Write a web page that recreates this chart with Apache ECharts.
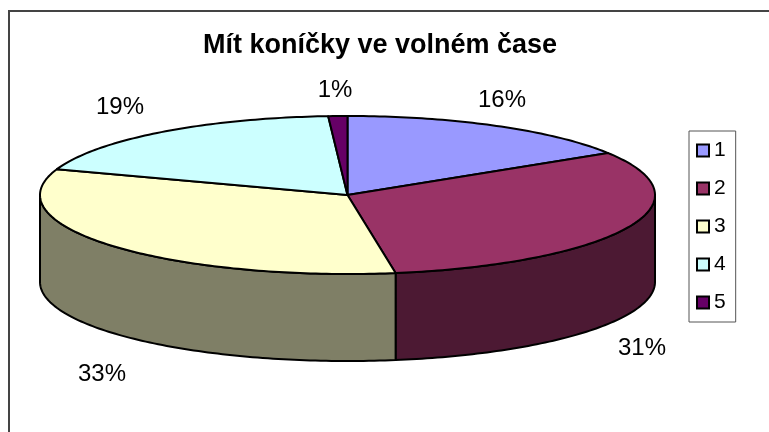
<!DOCTYPE html>
<html><head><meta charset="utf-8">
<style>html,body{margin:0;padding:0;background:#fff}#c{width:769px;height:432px}</style>
<script src="https://cdn.jsdelivr.net/npm/echarts@6/dist/echarts.min.js"></script>
</head><body><div id="c"></div>
<script>
const categories = ['1','2','3','4','5'];
const values = [16.1, 31.4, 32.8, 18.7, 1.0];
const topColors = ['#9999FF','#993366','#FFFFCC','#CCFFFF','#660066'];
const wallColors = ['#4C4C7F','#4C1933','#7F7F66','#667F7F','#330033'];
const labelTexts = ['16%','31%','33%','19%','1%'];
const labelAnchors = [[502,100],[642,348],[102,374],[120,107],[335,90]];

const C = {x:347.5, y:195, rx:307.5, ry:79, depth:87};
const total = values.reduce((a,b)=>a+b,0);
const starts = values.map((_,i)=>values.slice(0,i).reduce((a,b)=>a+b,0)/total*360);
function pt(deg, dy){const r=deg*Math.PI/180;return [C.x+C.rx*Math.sin(r), C.y-C.ry*Math.cos(r)+(dy||0)];}
function arc(a,b,dy){const n=Math.max(2,Math.ceil((b-a)));const o=[];for(let k=0;k<=n;k++)o.push(pt(a+(b-a)*k/n,dy));return o;}
const stroke={stroke:'#000',lineWidth:2,lineJoin:'round'};

function render(i){return function(params,api){
  const v=api.value(0);
  const a=starts[i], b=a+v/total*360;
  const kids=[];
  const wa=Math.max(a,90), wb=Math.min(b,270);
  if(wb>wa){
    const up=arc(wa,wb,0), dn=arc(wa,wb,C.depth).reverse();
    kids.push({type:'polygon',shape:{points:up.concat(dn)},style:Object.assign({fill:wallColors[i]},stroke)});
  }
  const pts=[[C.x,C.y]].concat(arc(a,b,0));
  kids.push({type:'polygon',shape:{points:pts},style:Object.assign({fill:topColors[i]},stroke)});
  kids.push({type:'text',z2:10,style:{text:labelTexts[i],x:labelAnchors[i][0],y:labelAnchors[i][1],align:'center',verticalAlign:'middle',fill:'#000',font:'24px "Liberation Sans"'}});
  return {type:'group',children:kids};
};}

const option={
  animation:false,
  backgroundColor:'#fff',
  title:{text:'Mít koníčky ve volném čase',left:375,top:27,textAlign:'center',
    textStyle:{fontFamily:'Liberation Sans',fontWeight:'bold',fontSize:27,color:'#000'}},
  legend:{orient:'vertical',left:689,top:131,padding:[9,10,9,7],itemWidth:12,itemHeight:12,itemGap:17,
    borderColor:'#555',borderWidth:1,icon:'rect',
    data:categories,selectedMode:false,
    itemStyle:{borderColor:'#000',borderWidth:2},
    textStyle:{fontFamily:'Liberation Sans',fontSize:21,color:'#000',lineHeight:20,padding:[0,0,0,0]}},
  graphic:[{type:'rect',silent:true,z:-1,shape:{x:9,y:11,width:800,height:500},style:{fill:'#fff',stroke:'#444',lineWidth:2}}],
  series:categories.map((name,i)=>({
    type:'custom',name,coordinateSystem:'none',silent:true,
    itemStyle:{color:topColors[i]},
    renderItem:render(i),
    data:[[values[i]]]
  }))
};
const chart=echarts.init(document.getElementById('c'),null,{renderer:'canvas'});
chart.setOption(option);
</script></body></html>
